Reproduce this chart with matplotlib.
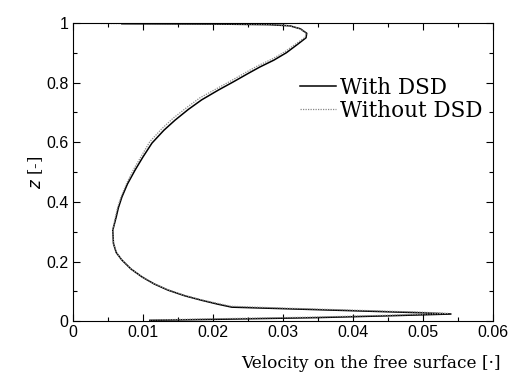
import numpy as np
import matplotlib.pyplot as plt

# velocity profile on the free surface
z_with = [0.997, 0.996, 0.994, 0.990, 0.980, 0.965, 0.950, 0.930, 0.900, 0.875,
          0.852, 0.830, 0.802, 0.775, 0.742, 0.710, 0.674, 0.640, 0.597, 0.550,
          0.507, 0.460, 0.416, 0.380, 0.350, 0.305, 0.260, 0.230, 0.205, 0.175,
          0.148, 0.125, 0.104, 0.085, 0.070, 0.057, 0.047, 0.042, 0.035, 0.028,
          0.024, 0.018, 0.012, 0.006, 0.003]
v_with = [0.0070, 0.0200, 0.0280, 0.0310, 0.0325, 0.0334, 0.0333, 0.0322, 0.0305, 0.0287,
          0.0267, 0.0250, 0.0229, 0.0208, 0.0184, 0.0165, 0.0146, 0.0130, 0.0113, 0.0100,
          0.0089, 0.0078, 0.0070, 0.0065, 0.0062, 0.0057, 0.0058, 0.0062, 0.0070, 0.0083,
          0.0099, 0.0116, 0.0136, 0.0160, 0.0184, 0.0207, 0.0227, 0.0300, 0.0400, 0.0500,
          0.0540, 0.0450, 0.0350, 0.0200, 0.0110]

z_without = [0.998, 0.997, 0.995, 0.991, 0.981, 0.966, 0.952, 0.932, 0.902, 0.878,
             0.856, 0.834, 0.806, 0.779, 0.748, 0.715, 0.680, 0.645, 0.602, 0.554,
             0.510, 0.463, 0.418, 0.382, 0.352, 0.306, 0.262, 0.232, 0.208, 0.177,
             0.150, 0.127, 0.106, 0.087, 0.072, 0.060, 0.050, 0.044, 0.037, 0.030,
             0.026, 0.020, 0.014, 0.008, 0.004]
v_without = [0.0040, 0.0190, 0.0275, 0.0308, 0.0324, 0.0333, 0.0332, 0.0320, 0.0302, 0.0284,
             0.0264, 0.0247, 0.0226, 0.0205, 0.0181, 0.0162, 0.0143, 0.0127, 0.0110, 0.0098,
             0.0087, 0.0077, 0.0069, 0.0064, 0.0061, 0.0057, 0.0058, 0.0062, 0.0069, 0.0082,
             0.0098, 0.0115, 0.0135, 0.0159, 0.0183, 0.0206, 0.0226, 0.0300, 0.0400, 0.0500,
             0.0535, 0.0450, 0.0350, 0.0200, 0.0110]

labels = ["With DSD", "Without DSD"]
xticks = [0, 0.01, 0.02, 0.03, 0.04, 0.05, 0.06]
xtick_labels = ["0", "0.01", "0.02", "0.03", "0.04", "0.05", "0.06"]
yticks = [0, 0.2, 0.4, 0.6, 0.8, 1]
ytick_labels = ["0", "0.2", "0.4", "0.6", "0.8", "1"]

fig = plt.figure(figsize=(5.13, 3.81), dpi=100)
ax = fig.add_axes([0.142, 0.157, 0.819, 0.783])

ax.plot(v_with, z_with, color="black", lw=1.1, label=labels[0])
ax.plot(v_without, z_without, color="#888888", lw=0.9, ls=(0, (1, 1)), label=labels[1])

ax.set_xlim(0, 0.06)
ax.set_ylim(0, 1)
ax.set_xticks(xticks, xtick_labels, family="Liberation Sans")
ax.set_yticks(yticks, ytick_labels, family="Liberation Sans")
ax.set_xticks([0.005, 0.015, 0.025, 0.035, 0.045, 0.055], minor=True)
ax.set_yticks([0.1, 0.3, 0.5, 0.7, 0.9], minor=True)
ax.tick_params(which="both", direction="in", top=True, right=True, width=0.8)
ax.tick_params(which="major", length=5, labelsize=11.5, pad=3)
ax.tick_params(which="minor", length=3)
for sp in ax.spines.values():
    sp.set_linewidth(0.8)

# the x label sits right of centre in the original
ax.set_xlabel("Velocity on the free surface [·]", family="DejaVu Serif", fontsize=12.2)
ax.xaxis.set_label_coords(0.71, -0.115)
ax.set_ylabel("$z$ [-]", family="DejaVu Serif", fontsize=12, labelpad=1)

ax.legend(loc="upper left", bbox_to_anchor=(0.54, 0.82), frameon=False,
          prop={"family": "DejaVu Serif", "size": 15.5}, handlelength=1.7,
          handletextpad=0.15, labelspacing=0.05, borderpad=0, borderaxespad=0)

fig.savefig("out.png", dpi=100)
